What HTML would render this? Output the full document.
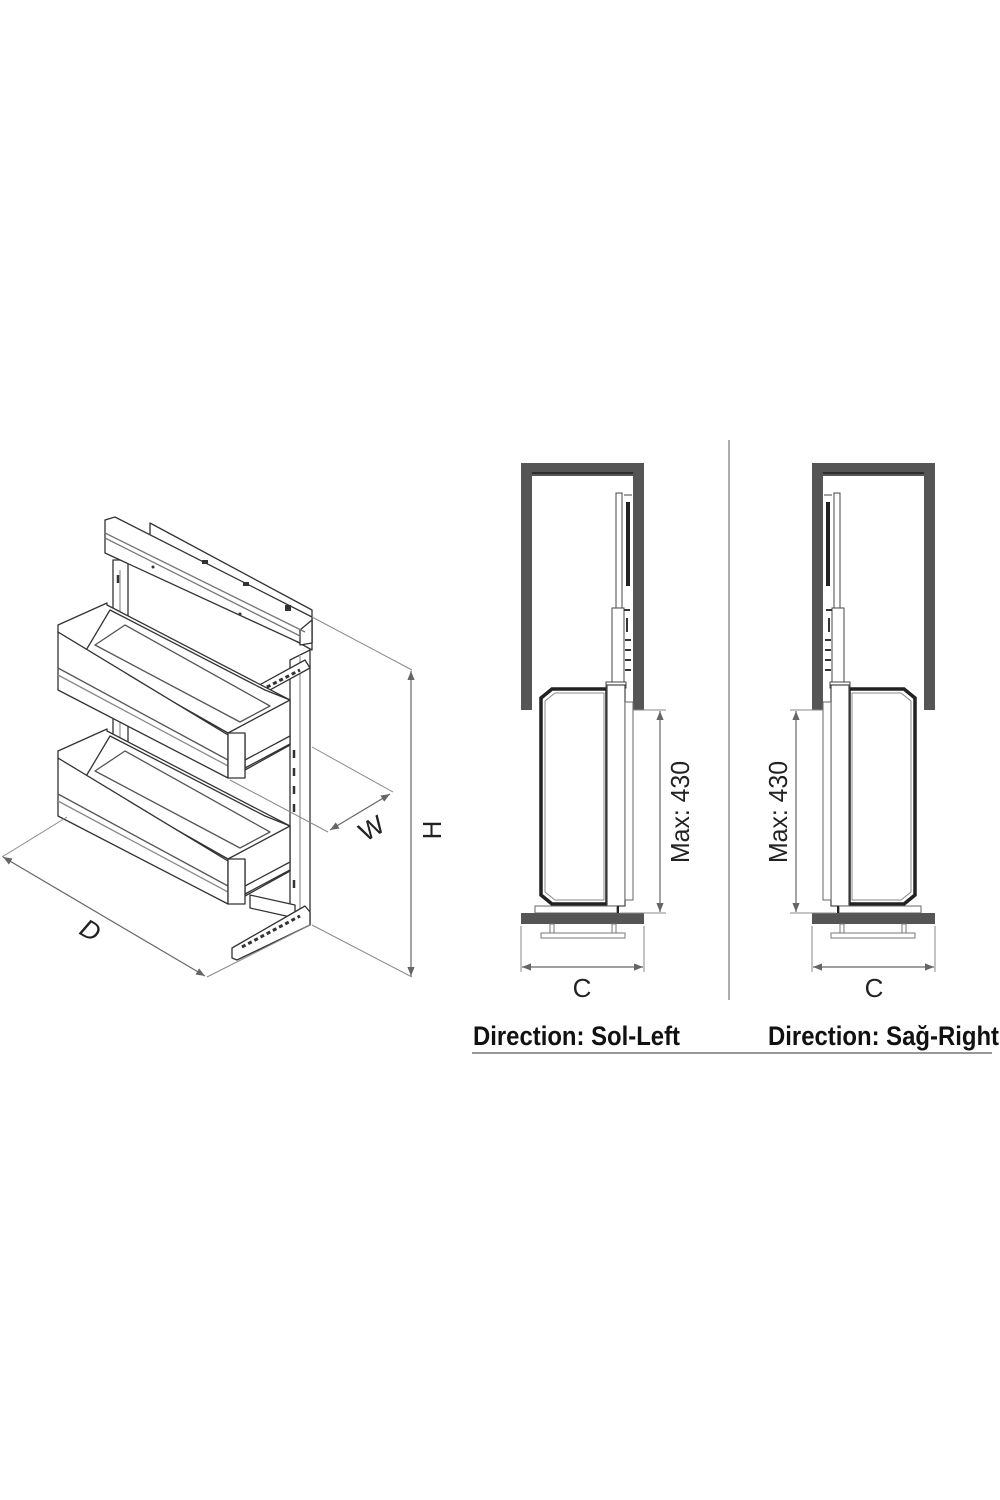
<!DOCTYPE html>
<html><head><meta charset="utf-8"><style>
html,body{margin:0;padding:0;background:#fff}
svg{display:block}
.t{font-family:"Liberation Sans Narrow","Liberation Sans",sans-serif;font-weight:bold;fill:#111}
.d{font-family:"Liberation Sans Narrow","Liberation Sans",sans-serif;fill:#222}
</style></head><body>
<svg width="1000" height="1500" viewBox="0 0 1000 1500" xmlns="http://www.w3.org/2000/svg">
<defs>
<marker id="a" viewBox="0 0 10 10" refX="10" refY="5" markerWidth="9" markerHeight="9" orient="auto-start-reverse" markerUnits="userSpaceOnUse"><path d="M0,1 L10,5 L0,9 z" fill="#666"/></marker>
<g id="cab">
  <rect x="521" y="463" width="123" height="13" fill="#555"/>
  <line x1="526" y1="473" x2="639" y2="473" stroke="#222" stroke-width="1.5"/>
  <rect x="521" y="463" width="11" height="247" fill="#555"/>
  <rect x="633" y="463" width="11" height="247" fill="#555"/>
  <rect x="616" y="493" width="6" height="191" fill="#fff" stroke="#444" stroke-width="1"/>
  <rect x="612" y="608" width="12" height="76" fill="#fff" stroke="#444" stroke-width="1"/>
  <rect x="626" y="502" width="4" height="84" fill="#222"/>
  <line x1="624" y1="495" x2="632" y2="495" stroke="#444"/>
  <path d="M624 610 h6 M627 618 v14 M625 640 h6 M625 650 h6 M625 660 h6 M625 670 h6" stroke="#333" stroke-width="2" fill="none"/>
  <rect x="606" y="682" width="20" height="6" fill="#fff" stroke="#444"/>
  <path d="M552 689 L607 689 L607 904 L552 904 L541 895 L541 698 Z" fill="#fff" stroke="#222" stroke-width="3.5"/>
  <path d="M555 693 L604 693 L604 900 L555 900 L545 892 L545 701 Z" fill="none" stroke="#888" stroke-width="1"/>
  <rect x="607" y="685" width="18" height="221" fill="#fff" stroke="#444" stroke-width="1.2"/>
  <rect x="625" y="702" width="8" height="198" fill="#fff" stroke="#666" stroke-width="1"/>
  <rect x="535" y="906" width="82" height="7" fill="#fff" stroke="#666" stroke-width="1"/>
  <rect x="617" y="906" width="2" height="7" fill="#222"/>
  <rect x="521" y="913" width="123" height="11" fill="#555"/>
  <rect x="550" y="924" width="4" height="12" fill="#fff" stroke="#777"/>
  <rect x="612" y="924" width="4" height="12" fill="#fff" stroke="#777"/>
  <rect x="541" y="933" width="84" height="5" fill="#fff" stroke="#777"/>
  <line x1="521" y1="926" x2="521" y2="972" stroke="#888"/>
  <line x1="644" y1="926" x2="644" y2="972" stroke="#888"/>
  <line x1="522" y1="967" x2="643" y2="967" stroke="#666" stroke-width="1.2" marker-start="url(#a)" marker-end="url(#a)"/>
  <line x1="633" y1="710" x2="666" y2="710" stroke="#888"/>
  <line x1="620" y1="913" x2="666" y2="913" stroke="#888"/>
  <line x1="660" y1="711" x2="660" y2="912" stroke="#666" stroke-width="1.2" marker-start="url(#a)" marker-end="url(#a)"/>
</g>
</defs>

<use href="#cab"/>
<use href="#cab" transform="translate(1456,0) scale(-1,1)"/>

<text class="d" x="582" y="997" font-size="26" text-anchor="middle">C</text>
<text class="d" x="874" y="997" font-size="26" text-anchor="middle">C</text>
<text class="d" font-size="26" text-anchor="middle" textLength="102" lengthAdjust="spacingAndGlyphs" transform="translate(689,812) rotate(-90)">Max: 430</text>
<text class="d" font-size="26" text-anchor="middle" textLength="102" lengthAdjust="spacingAndGlyphs" transform="translate(787,812) rotate(-90)">Max: 430</text>

<line x1="729" y1="440" x2="729" y2="1000" stroke="#777" stroke-width="1.2"/>
<line x1="472" y1="1053" x2="992" y2="1053" stroke="#777" stroke-width="1.5"/>
<text class="t" x="473" y="1045" font-size="27" textLength="207" lengthAdjust="spacingAndGlyphs">Direction: Sol-Left</text>
<text class="t" x="768" y="1045" font-size="27" textLength="231" lengthAdjust="spacingAndGlyphs">Direction: Sağ-Right</text>

<g fill="#fff" stroke="#333" stroke-width="1.3" stroke-linejoin="round">
  <polygon points="150,523 312,610 312,650 150,560"/>
  <rect x="113" y="560" width="15" height="250"/>
  <line x1="120" y1="570" x2="120" y2="800" stroke="#999"/>
  <polygon points="290,660 310,650 310,925 290,930"/>
  <line x1="300" y1="655" x2="300" y2="928" stroke="#999"/>
  <g stroke="#333" stroke-width="2.5">
    <line x1="294" y1="750" x2="294" y2="758"/><line x1="294" y1="768" x2="294" y2="776"/><line x1="294" y1="786" x2="294" y2="794"/><line x1="294" y1="804" x2="294" y2="812"/><line x1="294" y1="880" x2="294" y2="888"/>
    <line x1="118" y1="575" x2="118" y2="583"/>
  </g>
  <polygon points="105,520 115,517 312,617 312,643 300,643 105,553"/>
  <polygon points="300,630 312,620 312,643 300,645" />
  <line x1="105" y1="533" x2="305" y2="632" stroke="#777"/>
  <line x1="105" y1="538" x2="300" y2="636" stroke="#777"/>
  <g fill="#333" stroke="none">
    <rect x="202" y="560" width="6" height="4"/><rect x="243" y="582" width="6" height="4"/><rect x="285" y="605" width="6" height="6"/><circle cx="153" cy="567" r="1.5"/><circle cx="240" cy="614" r="1.5"/>
  </g>
  <polygon points="232,700 305,660 310,668 237,708 237,712 232,710"/>
  <line x1="242" y1="700" x2="300" y2="670" stroke="#333" stroke-width="3" stroke-dasharray="4 3"/>

  <polygon points="107,605 290,700 290,745 245,770 245,735 228,733 85,652 58,632 58,625 107,603"/>
  <polygon points="85,652 228,733 290,700 265,690 110,610"/>
  <polygon points="95,645 240,722 270,706 125,625" fill="#fff" stroke="#555"/>
  <polygon points="58,632 228,735 228,778 58,690"/>
  <line x1="58" y1="668" x2="228" y2="760" stroke="#555"/>
  <line x1="58" y1="675" x2="228" y2="766" stroke="#888"/>
  <rect x="228" y="733" width="17" height="45"/>
  <line x1="245" y1="760" x2="290" y2="736"/>
  <line x1="245" y1="768" x2="290" y2="744"/>

  <polygon points="107,731 290,826 290,871 245,896 245,861 228,859 85,778 58,758 58,751 107,729"/>
  <polygon points="85,778 228,859 290,826 265,816 110,736"/>
  <polygon points="95,771 240,848 270,832 125,751" fill="#fff" stroke="#555"/>
  <polygon points="58,758 228,861 228,904 58,816"/>
  <line x1="58" y1="794" x2="228" y2="886" stroke="#555"/>
  <line x1="58" y1="801" x2="228" y2="892" stroke="#888"/>
  <rect x="228" y="859" width="17" height="45"/>
  <line x1="245" y1="886" x2="290" y2="862"/>
  <line x1="245" y1="894" x2="290" y2="870"/>
  <polygon points="250,895 295,905 295,918 250,908"/>
  <polygon points="232,948 305,906 310,912 310,925 237,960 232,958"/>
  <line x1="242" y1="947" x2="300" y2="916" stroke="#333" stroke-width="3" stroke-dasharray="4 3"/>
</g>

<g stroke="#888" stroke-width="1" fill="none">
  <line x1="67" y1="817" x2="2" y2="857"/>
  <line x1="310" y1="925" x2="207" y2="977"/>
  <line x1="312" y1="747" x2="393" y2="792"/>
  <line x1="230" y1="780" x2="328" y2="832"/>
  <line x1="312" y1="617" x2="412" y2="670"/>
  <line x1="312" y1="925" x2="412" y2="977"/>
</g>
<line x1="3" y1="857" x2="205" y2="976" stroke="#666" stroke-width="1.2" marker-start="url(#a)" marker-end="url(#a)"/>
<line x1="330" y1="830" x2="390" y2="794" stroke="#666" stroke-width="1.2" marker-start="url(#a)" marker-end="url(#a)"/>
<line x1="411" y1="671" x2="411" y2="976" stroke="#666" stroke-width="1.2" marker-start="url(#a)" marker-end="url(#a)"/>
<text class="d" font-size="26" font-style="italic" text-anchor="middle" transform="translate(86,938) rotate(30)">D</text>
<text class="d" font-size="26" text-anchor="middle" transform="translate(376,836) rotate(-30)">W</text>
<text class="d" font-size="26" text-anchor="middle" transform="translate(441,830) rotate(-90)">H</text>
</svg>
</body></html>
